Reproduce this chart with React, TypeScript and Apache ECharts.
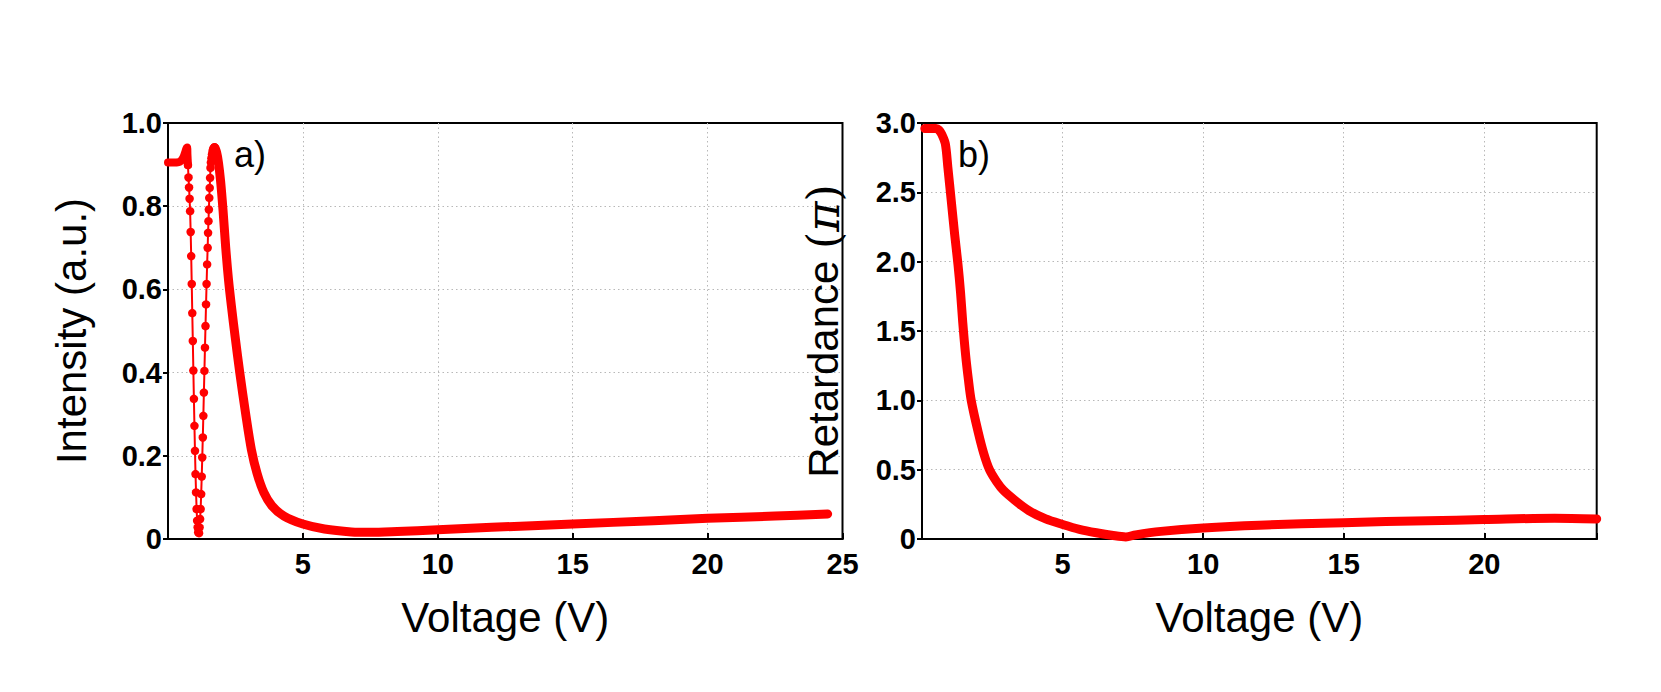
import React, { useEffect, useRef } from "react";
import * as echarts from "echarts";

// ---- Panel a) Intensity vs Voltage ----
// flat start + small bump (dense samples, drawn as a thick band)
const intensityHeadV = [0.0, 0.2, 0.4, 0.48, 0.56, 0.63, 0.68, 0.71, 0.72, 0.74];
const intensityHeadI = [0.905, 0.905, 0.906, 0.909, 0.916, 0.928, 0.938, 0.941, 0.925, 0.899];

// steep oscillation where the individual samples are visible
const intensityDotsV = [
  0.74, 0.76, 0.78, 0.8, 0.82, 0.84, 0.86, 0.88, 0.9, 0.92, 0.94, 0.96, 0.98, 1.0, 1.02, 1.04, 1.06, 1.08, 1.1, 1.12,
  1.15, 1.17, 1.19, 1.21, 1.23, 1.25, 1.27, 1.29, 1.31, 1.33, 1.35, 1.37, 1.39, 1.41, 1.43, 1.45, 1.47, 1.485, 1.5,
  1.515, 1.53, 1.545, 1.56, 1.575, 1.59, 1.61, 1.63, 1.65, 1.67, 1.69, 1.71, 1.73, 1.75,
];
const intensityDotsI = [
  0.899, 0.869, 0.845, 0.818, 0.788, 0.738, 0.68, 0.613, 0.543, 0.476, 0.405, 0.337, 0.272, 0.212, 0.156, 0.112, 0.072,
  0.044, 0.028, 0.016, 0.014, 0.028, 0.048, 0.072, 0.108, 0.15, 0.196, 0.244, 0.296, 0.352, 0.404, 0.46, 0.512, 0.564,
  0.613, 0.66, 0.7, 0.736, 0.764, 0.792, 0.82, 0.844, 0.868, 0.892, 0.905, 0.915, 0.924, 0.931, 0.936, 0.939, 0.941,
  0.941, 0.939,
];

// decay and slow rise (dense samples, thick band)
const intensityTailV = [
  1.73, 1.8, 1.87, 1.95, 2.04, 2.14, 2.24, 2.35, 2.5, 2.66, 2.88, 3.09, 3.3, 3.55, 3.85, 4.3, 5.0, 5.8, 6.8, 7.5, 8.5,
  10, 12, 15, 18, 20, 22.5, 24.45,
];
const intensityTailI = [
  0.941, 0.93, 0.905, 0.86, 0.79, 0.7, 0.625, 0.56, 0.48, 0.4, 0.3, 0.215, 0.158, 0.112, 0.08, 0.055, 0.036, 0.024,
  0.017, 0.016, 0.018, 0.022, 0.028, 0.036, 0.044, 0.05, 0.055, 0.06,
];

// ---- Panel b) Retardance vs Voltage ----
const retardanceV = [
  0.1, 0.3, 0.5, 0.6, 0.7, 0.83, 0.92, 1.04, 1.16, 1.28, 1.37, 1.45, 1.55, 1.65, 1.75, 2.0, 2.2, 2.4, 2.65, 2.9, 3.3,
  3.8, 4.4, 5.0, 5.6, 6.2, 6.8, 7.25, 7.6, 8.5, 10, 12, 15, 18, 20, 22.5, 24,
];
const retardanceR = [
  2.96, 2.96, 2.96, 2.95, 2.92, 2.85, 2.68, 2.44, 2.2, 1.98, 1.78, 1.56, 1.33, 1.15, 1.0, 0.77, 0.615, 0.5, 0.415, 0.35,
  0.28, 0.205, 0.145, 0.105, 0.07, 0.045, 0.025, 0.015, 0.03, 0.055, 0.08, 0.1, 0.118, 0.132, 0.14, 0.15, 0.145,
];

// tick labels
const leftXTicks = [5, 10, 15, 20, 25];
const rightXTicks = [5, 10, 15, 20];

const zip = (xs: number[], ys: number[]) => xs.map((x, i) => [x, ys[i]]);

const RED = "#ff0000";
const tickFont = {
  fontFamily: "Liberation Sans",
  fontWeight: "bold" as const,
  fontSize: 29,
  color: "#000",
};
const nameFont = { fontFamily: "Liberation Sans", fontSize: 42, color: "#000" };
const splitLine = {
  show: true,
  showMinLine: false,
  showMaxLine: false,
  lineStyle: { color: "#b8b8b8", type: [1.5, 3] as any, width: 1 },
};
const axisLine = { show: true, onZero: false, lineStyle: { color: "#000", width: 2 } };

const yFmt = (v: number) => (v === 0 ? "0" : v.toFixed(1));

export default function App() {
  const ref = useRef<HTMLDivElement>(null);

  useEffect(() => {
    if (!ref.current) return;
    const chart = echarts.init(ref.current, undefined, { renderer: "svg" });

    const xAxisBase = (grid: number, max: number, ticks: number[]) => ({
      type: "value",
      gridIndex: grid,
      min: 0,
      max,
      interval: 5,
      name: "Voltage (V)",
      nameLocation: "middle",
      nameGap: 57,
      nameTextStyle: nameFont,
      axisLine,
      axisTick: { show: true, inside: true, length: 6, lineStyle: { color: "#000", width: 2 } },
      axisLabel: {
        ...tickFont,
        margin: 10,
        formatter: (v: number) => (ticks.includes(v) ? String(v) : ""),
      },
      splitLine,
    });

    const yAxisBase = (grid: number, max: number, interval: number, name: string, rich?: any) => ({
      type: "value",
      gridIndex: grid,
      min: 0,
      max,
      interval,
      name,
      nameLocation: "middle",
      nameGap: 76,
      nameTextStyle: rich ? { ...nameFont, rich } : nameFont,
      axisLine,
      axisTick: { show: true, inside: false, length: 5, lineStyle: { color: "#000", width: 2 } },
      axisLabel: { ...tickFont, margin: 6, formatter: yFmt },
      splitLine,
    });

    const option: any = {
      animation: false,
      backgroundColor: "#ffffff",
      grid: [
        { left: 168, top: 123, width: 674.5, height: 416, show: true, borderColor: "#000", borderWidth: 2 },
        { left: 922, top: 123, width: 674.7, height: 416, show: true, borderColor: "#000", borderWidth: 2 },
      ],
      xAxis: [xAxisBase(0, 25, leftXTicks), xAxisBase(1, 24, rightXTicks)],
      yAxis: [
        yAxisBase(0, 1, 0.2, "Intensity (a.u.)"),
        yAxisBase(1, 3, 0.5, "{t|Retardance }{m|(}{p|π}{m|)}", {
          t: { fontFamily: "Liberation Sans", fontSize: 42, color: "#000" },
          m: { fontFamily: "DejaVu Serif", fontSize: 44, color: "#000" },
          p: { fontFamily: "DejaVu Serif", fontStyle: "italic", fontSize: 46, color: "#000" },
        }),
      ],
      series: [
        {
          type: "line",
          xAxisIndex: 0,
          yAxisIndex: 0,
          data: zip(intensityHeadV, intensityHeadI),
          symbol: "none",
          smooth: 0.3,
          lineStyle: { color: RED, width: 8, cap: "round", join: "round" },
        },
        {
          type: "line",
          xAxisIndex: 0,
          yAxisIndex: 0,
          data: zip(intensityDotsV, intensityDotsI),
          symbol: "circle",
          symbolSize: 8.5,
          showAllSymbol: true,
          itemStyle: { color: RED },
          lineStyle: { color: RED, width: 2 },
        },
        {
          type: "line",
          xAxisIndex: 0,
          yAxisIndex: 0,
          data: zip(intensityTailV, intensityTailI),
          symbol: "none",
          smooth: 0.3,
          lineStyle: { color: RED, width: 9, cap: "round", join: "round" },
        },
        {
          type: "line",
          xAxisIndex: 1,
          yAxisIndex: 1,
          data: zip(retardanceV, retardanceR),
          symbol: "none",
          smooth: 0.3,
          lineStyle: { color: RED, width: 9, cap: "round", join: "round" },
        },
      ],
      graphic: [
        {
          type: "text",
          x: 234,
          y: 154,
          style: { text: "a)", fontFamily: "Liberation Sans", fontSize: 36, fill: "#000", verticalAlign: "middle" },
        },
        {
          type: "text",
          x: 958,
          y: 154,
          style: { text: "b)", fontFamily: "Liberation Sans", fontSize: 36, fill: "#000", verticalAlign: "middle" },
        },
      ],
    };

    chart.setOption(option);
    return () => chart.dispose();
  }, []);

  return (
    <div
      ref={ref}
      style={{ position: "absolute", left: 0, top: 0, width: 1661, height: 692, background: "#fff" }}
    />
  );
}
